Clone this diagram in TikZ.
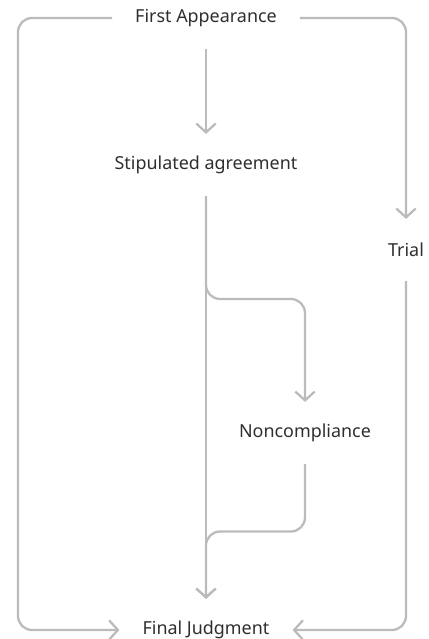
\documentclass[tikz,border=0pt]{standalone}
\usepackage{fontspec}
\setmainfont{Noto Sans}
\usepackage{tikz}
\usetikzlibrary{calc,arrows.meta}
\definecolor{edgegray}{HTML}{BBBBBB}
\definecolor{textgray}{HTML}{2E2E2E}
\tikzstyle{stage} = [rectangle, minimum height=35pt, inner xsep=13pt, text=textgray, font=\fontsize{10.2}{12}\selectfont]
\tikzstyle{flow} = [draw=edgegray, line width=1.3pt, rounded corners=8pt, -{Straight Barb[length=5pt,width=11pt]}]

\begin{document}
\begin{tikzpicture}[x=0.02cm, y=-0.02cm]
            \useasboundingbox (0,0) rectangle (429,639);

            \node (FA) [stage] at (206,18) {First Appearance};
            \node (SA) [stage] at (206,165) {Stipulated agreement};
            \node (TR) [stage] at (406,250) {Trial};
            \node (NC) [stage] at (305,433) {Noncompliance};
            \node (FJ) [stage] at (206,630) {Final Judgment};
            \coordinate (L) at (18,630);

            \draw [flow] (FA) -- (SA);
            \draw [flow] (FA.west) -| (L) -- (FJ.west);
            \draw [flow] (FA.east) -| (TR.north);
            \draw [flow] (SA) -- (FJ);
            \draw [flow] (SA.south) |- ($(SA.south)!.5!(NC.north)$) -| (NC.north);
            \draw [flow] (TR.south) |- (FJ.east);
            \draw [flow] (NC.south) |- ($(NC.south)!.5!(FJ.north)$) -| (FJ.north);
        \end{tikzpicture}
\end{document}
